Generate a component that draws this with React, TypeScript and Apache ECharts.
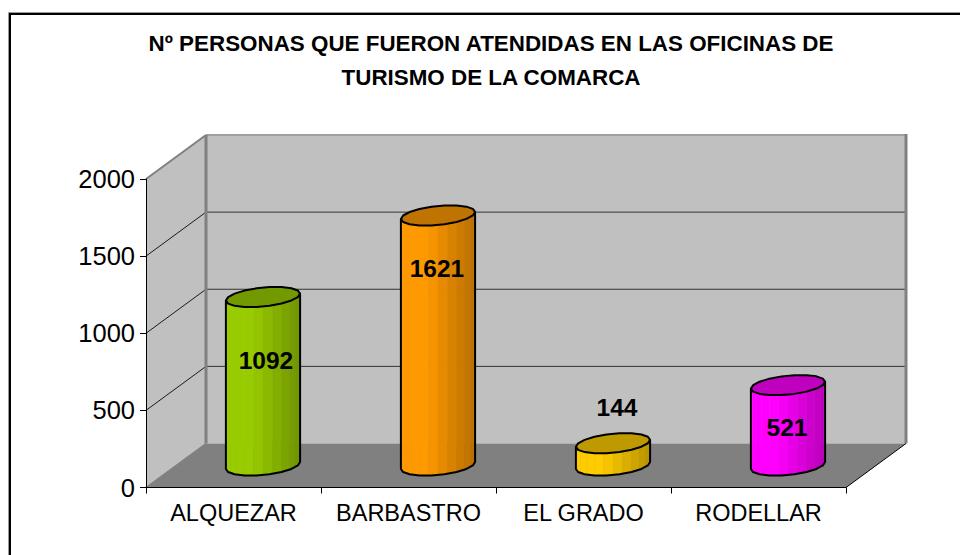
import React, { useEffect, useRef } from "react";
import * as echarts from "echarts";

const categories = ["ALQUEZAR", "BARBASTRO", "EL GRADO", "RODELLAR"];
const values = [1092, 1621, 144, 521];
const barColors = ["#99CC00", "#FF9900", "#FFCC00", "#FF00FF"];
const yTicks = [0, 500, 1000, 1500, 2000];
const titleLines = [
  "Nº PERSONAS QUE FUERON ATENDIDAS EN LAS OFICINAS DE",
  "TURISMO DE LA COMARCA",
];

const FONT = "'Liberation Sans', Arial, sans-serif";
const DX = 60;
const DY = -44;
const labelShift = [63, 53, -36, 42];
const labelDx = [3, -1, 4, -1];

function shade(hex: string, f: number) {
  const n = parseInt(hex.slice(1), 16);
  const c = [(n >> 16) & 255, (n >> 8) & 255, n & 255].map((v) => Math.round(v * f));
  return `rgb(${c[0]},${c[1]},${c[2]})`;
}

function renderWalls(_p: any, api: any) {
  const halfBand = api.size([1, 0])[0] / 2;
  const first = api.coord([0, 0]);
  const last = api.coord([categories.length - 1, 0]);
  const x0 = first[0] - halfBand;
  const x1 = last[0] + halfBand;
  const bl = [x0, first[1]];
  const tl = [x0, api.coord([0, 2000])[1]];
  const br = [x1, first[1]];
  const poly = (pts: number[][], fill: string) => ({
    type: "polygon",
    shape: { points: pts },
    style: { fill, stroke: "none" },
    silent: true,
  });
  const line = (a: number[], b: number[], stroke: string, lineWidth: number) => ({
    type: "line",
    shape: { x1: a[0], y1: a[1], x2: b[0], y2: b[1] },
    style: { stroke, lineWidth, fill: "none" },
    silent: true,
  });
  const back = (p: number[]) => [p[0] + DX, p[1] + DY];
  const children: any[] = [
    poly([bl, tl, back(tl), back(bl)], "#C0C0C0"),
    poly([back(tl), [back(br)[0], back(tl)[1]], back(br), back(bl)], "#C0C0C0"),
    poly([bl, br, back(br), back(bl)], "#808080"),
  ];
  yTicks.slice(1, 4).forEach((v) => {
    const p = [x0, api.coord([0, v])[1]];
    const q = back(p);
    children.push(line(p, q, "#1a1a1a", 1));
    children.push(line(q, [back(br)[0], q[1]], "#333333", 1));
  });
  children.push(line(tl, back(tl), "#808080", 2));
  children.push(line(back(tl), [back(br)[0], back(tl)[1]], "#A0A0A0", 2));
  children.push(line(back(tl), back(bl), "#808080", 3));
  children.push(line(bl, back(bl), "#808080", 1.5));
  children.push(line([back(br)[0], back(tl)[1] - 1], back(br), "#808080", 3));
  children.push(line(br, back(br), "#000000", 1));
  return { type: "group", children };
}

function renderCylinder(_p: any, api: any) {
  const idx = api.value(0);
  const val = api.value(1);
  const base = api.coord([idx, 0]);
  const top = api.coord([idx, val]);
  const a = api.size([1, 0])[0] * 0.212;
  const cx = base[0] + DX / 2 - 0.5;
  const by = base[1] + DY / 2;
  const ty = top[1] + DY / 2;
  const color = barColors[idx];
  const ring = (cy: number, t: number) => [
    cx + a * Math.cos(t),
    cy - 3.5 * Math.cos(t) - 9.5 * Math.sin(t),
  ];
  const FACETS = 9;
  const children: any[] = [];
  const STRIPS = 12;
  const outlineBottom: number[][] = [];
  for (let i = 0; i <= FACETS; i++) {
    outlineBottom.push(ring(by, Math.PI + (Math.PI * i) / FACETS));
  }
  for (let i = 0; i < STRIPS; i++) {
    const t0 = Math.PI + (Math.PI * i) / STRIPS;
    const t1 = Math.PI + (Math.PI * (i + 1)) / STRIPS;
    const xf = (Math.cos((t0 + t1) / 2) + 1) / 2;
    const f = xf < 0.34 ? 1 : 1 - ((xf - 0.34) / 0.66) * 0.28;
    const p0 = ring(by, t0);
    const p1 = ring(by, t1);
    const q0 = ring(ty, t0);
    const q1 = ring(ty, t1);
    const fill = shade(color, f);
    children.push({
      type: "polygon",
      shape: { points: [q0, q1, p1, p0] },
      style: { fill, stroke: fill, lineWidth: 0.5 },
      silent: true,
    });
  }
  children.push({
    type: "polyline",
    shape: { points: [ring(ty, Math.PI), ...outlineBottom, ring(ty, 0)] },
    style: { fill: "none", stroke: "#000", lineWidth: 2, lineJoin: "round" },
    silent: true,
  });
  const topPts: number[][] = [];
  for (let i = 0; i < FACETS * 2; i++) topPts.push(ring(ty, (Math.PI * i) / FACETS));
  children.push({
    type: "polygon",
    shape: { points: topPts },
    style: { fill: shade(color, 0.75), stroke: "#000", lineWidth: 2, lineJoin: "round" },
    silent: true,
  });
  children.push({
    type: "text",
    style: {
      text: String(val),
      x: cx + labelDx[idx],
      y: ty + labelShift[idx],
      font: `bold 24.5px ${FONT}`,
      fill: "#000",
      align: "center",
      verticalAlign: "middle",
    },
    silent: true,
  });
  return { type: "group", children };
}

export default function App() {
  const ref = useRef<HTMLDivElement>(null);
  useEffect(() => {
    const chart = echarts.init(ref.current!, undefined, { renderer: "svg" });
    chart.setOption({
      animation: false,
      backgroundColor: "#FFFFFF",
      title: {
        text: titleLines.join("\n"),
        left: 486,
        top: 21,
        textAlign: "center",
        textStyle: { fontFamily: FONT, fontWeight: "bold", fontSize: 22.4, lineHeight: 34, color: "#000" },
      },
      grid: { left: 146, top: 179, width: 700, height: 308.5 },
      xAxis: {
        type: "category",
        data: categories,
        z: 6,
        axisLine: { lineStyle: { color: "#000", width: 1 } },
        axisTick: { show: true, length: 6, lineStyle: { color: "#000" } },
        axisLabel: { fontFamily: FONT, fontSize: 23.5, color: "#000", margin: 13, interval: 0 },
        splitLine: { show: false },
      },
      yAxis: {
        type: "value",
        min: 0,
        max: 2000,
        interval: 500,
        z: 6,
        axisLine: { show: true, lineStyle: { color: "#000", width: 1 } },
        axisTick: { show: true, length: 6, lineStyle: { color: "#000" } },
        axisLabel: {
          fontFamily: FONT,
          fontSize: 25.5,
          color: "#000",
          margin: 11,
          formatter: (v: number) => String(v),
        },
        splitLine: { show: false },
      },
      graphic: [
        { type: "line", shape: { x1: 8.5, y1: 12.5, x2: 960, y2: 12.5 }, style: { stroke: "#999", lineWidth: 1 }, silent: true },
        { type: "line", shape: { x1: 8.5, y1: 12.5, x2: 8.5, y2: 555 }, style: { stroke: "#999", lineWidth: 1 }, silent: true },
        { type: "line", shape: { x1: 9, y1: 14, x2: 960, y2: 14 }, style: { stroke: "#000", lineWidth: 2 }, silent: true },
        { type: "line", shape: { x1: 10, y1: 13, x2: 10, y2: 555 }, style: { stroke: "#000", lineWidth: 2 }, silent: true },
      ],
      series: [
        {
          type: "custom",
          name: "walls",
          z: 1,
          clip: false,
          silent: true,
          renderItem: renderWalls,
          data: [[0, 0]],
          encode: { x: 0, y: 1 },
        },
        {
          type: "custom",
          name: "personas",
          z: 3,
          clip: false,
          silent: true,
          renderItem: renderCylinder,
          data: values.map((v, i) => [i, v]),
          encode: { x: 0, y: 1 },
        },
      ],
    });
    return () => chart.dispose();
  }, []);
  return <div ref={ref} style={{ position: "absolute", left: 0, top: 0, width: 960, height: 555 }} />;
}
